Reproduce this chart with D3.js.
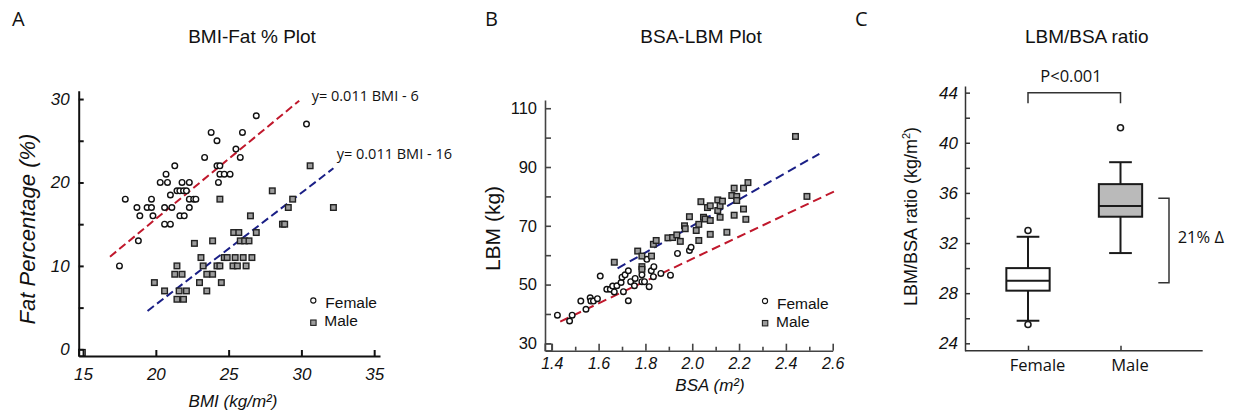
<!DOCTYPE html>
<meta charset="utf-8">
<title>BMI / BSA / LBM plots</title>
<style>
body { margin: 0; background: #fff; }
svg text { fill: #111; }
.fit { fill: none; stroke-width: 2; }
</style>
<svg width="1238" height="414"></svg>
<script src="https://d3js.org/d3.v7.min.js"></script>
<script>

// ---- panel A : BMI vs fat %
var femaleBMI = [17.5,17.9,18.7,18.9,18.8,19.4,19.7,19.7,19.8,20.3,20.6,20.7,20.8,20.6,21.0,21.0,21.1,21.3,21.45,21.65,21.8,21.9,21.65,21.95,22.1,22.3,22.3,22.3,22.6,22.75,23.35,23.8,24.2,24.2,24.3,24.4,24.4,24.7,25.1,25.5,25.8,25.95,26.9,30.35];
var femaleFat = [10,18,17,16,13,17,18,17,16,20,15,21,20,17,15,18.5,17,22,19,19,20,19,16,16,19,20,18,17,18,18,23,26,25,22,20,22,21,21,21,24,23,26,28,27];
var maleBMI = [19.9,20.6,21.3,21.45,21.45,21.6,21.8,21.9,22.1,22.65,23.0,23.1,23.25,23.5,23.5,23.9,23.9,24.2,24.4,24.4,24.5,24.7,24.9,25.35,25.7,25.45,25.3,25.6,25.8,26.1,26.4,26.0,26.2,26.5,26.6,26.9,28.0,28.7,28.85,29.1,29.4,30.6,32.2];
var maleFat = [8,7,9,10,6,7,9,6,7,12.7,8,11,10,7,9,9,13,10,10,18,8,11,11,14,14,11,10,10,13,13,13,11,10,16,11,14,19,15,15,17,18,22,17];
var fitFemaleA = [[16.85, 11.1], [29.85, 29.8]];
var fitMaleA = [[19.43, 4.6], [32.2, 21.7]];
var bmiTicks = [15, 20, 25, 30, 35];
var fatTicks = [0, 10, 20, 30];
var fatMinor = [5, 15, 25];

// ---- panel B : BSA vs LBM
var femaleBSA = [1.424,1.476,1.487,1.524,1.546,1.564,1.567,1.578,1.595,1.607,1.635,1.65,1.66,1.667,1.678,1.696,1.706,1.70,1.713,1.727,1.727,1.737,1.756,1.753,1.785,1.785,1.796,1.806,1.816,1.825,1.836,1.834,1.866,1.907,1.937,1.988,1.995];
var femaleLBM = [39.6,37.6,39.6,44.4,41.6,45.5,44.4,44.4,45.2,52.9,48.4,48.4,49.5,47.5,49.6,50.7,47.6,52.5,53.3,54.7,44.5,51.0,52.1,49.6,51.0,53.3,51.0,58.6,49.3,54.7,56.1,52.7,53.8,53.2,60.6,61.6,62.7];
var maleBSA = [1.667,1.767,1.785,1.785,1.785,1.826,1.834,1.846,1.896,1.916,1.934,1.949,1.967,1.97,1.988,2.017,2.028,2.028,2.037,2.048,2.055,2.065,2.077,2.077,2.077,2.109,2.109,2.119,2.119,2.129,2.148,2.169,2.179,2.179,2.19,2.19,2.219,2.219,2.229,2.238,2.441,2.49];
var maleLBM = [57.6,61.4,59.7,56.1,55.2,59.7,63.7,65.0,65.9,66.0,66.9,64.7,70.0,69.0,73.1,68.4,65.0,70.5,78.2,72.9,72.3,76.2,76.8,71.8,67.1,78.8,75.2,76.8,72.9,78.4,67.8,80.3,82.8,73.6,80.0,78.6,82.8,75.7,72.2,84.7,100.4,80.0];
var fitFemaleB = [[1.436, 37.4], [2.62, 82.2]];
var fitMaleB = [[1.681, 55.5], [2.543, 94.5]];
var bsaTicks = [1.4, 1.6, 1.8, 2.0, 2.2, 2.4, 2.6];
var bsaMinor = [1.5, 1.7, 1.9, 2.1, 2.3, 2.5];
var lbmTicks = [30, 50, 70, 90, 110];
var lbmMinor = [40, 60, 80, 100];

// ---- panel C : LBM/BSA ratio boxes
var groups = ["Female", "Male"];
var q1 = [28.2, 34.1];
var median = [29.0, 34.95];
var q3 = [30.0, 36.7];
var whiskerLow = [25.8, 31.2];
var whiskerHigh = [32.5, 38.45];
var outliers = [[33.0, 25.5], [41.2]];
var boxFill = ["#ffffff", "#bababa"];
var ratioTicks = [24, 28, 32, 36, 40, 44];
var ratioMinor = [26, 30, 34, 38, 42];
var pBracket = [44.0, 43.15];
var deltaBracket = [35.57, 28.84];

var svg = d3.select("svg");
var helv = "'Liberation Sans', Arial, sans-serif";
var myriad = "'Open Sans', sans-serif";

function text(x, y, s, size, family, anchor, italic) {
  return svg.append("text")
      .attr("x", x).attr("y", y)
      .attr("font-size", size)
      .attr("font-family", family)
      .attr("text-anchor", anchor || "start")
      .attr("font-style", italic ? "italic" : "normal")
      .text(s);
}

function styleAxis(g, size, italic, width, color) {
  g.attr("font-family", helv).attr("font-size", size)
    .attr("font-style", italic ? "italic" : "normal");
  g.selectAll("path, line").attr("stroke", color).attr("stroke-width", width);
  g.selectAll("text").attr("fill", "#111");
}

function circles(x, y, xs, ys) {
  svg.append("g").selectAll("circle")
    .data(xs.map(function(d, i) { return [d, ys[i]]; }))
    .enter().append("circle")
      .attr("cx", function(d) { return x(d[0]); })
      .attr("cy", function(d) { return y(d[1]); })
      .attr("r", 2.8)
      .attr("fill", "#fff")
      .attr("stroke", "#111")
      .attr("stroke-width", 1.4);
}

function squares(x, y, xs, ys) {
  svg.append("g").selectAll("rect")
    .data(xs.map(function(d, i) { return [d, ys[i]]; }))
    .enter().append("rect")
      .attr("x", function(d) { return x(d[0]) - 2.8; })
      .attr("y", function(d) { return y(d[1]) - 2.8; })
      .attr("width", 5.6).attr("height", 5.6)
      .attr("fill", "#9c9c9c")
      .attr("stroke", "#222")
      .attr("stroke-width", 1.4);
}

function fit(x, y, pts, color, dash) {
  svg.append("path")
    .attr("class", "fit")
    .attr("stroke", color)
    .attr("stroke-dasharray", dash)
    .attr("d", d3.line().x(function(d) { return x(d[0]); }).y(function(d) { return y(d[1]); })(pts));
}

// legend: Liberation Sans keeps the two rows from colliding at this spacing
function legend(x, y) {
  svg.append("circle").attr("cx", x).attr("cy", y).attr("r", 2.6)
    .attr("fill", "#fff").attr("stroke", "#111").attr("stroke-width", 1.1);
  svg.append("rect").attr("x", x - 2.6).attr("y", y + 19.5).attr("width", 5.4).attr("height", 5.4)
    .attr("fill", "#9c9c9c").attr("stroke", "#222").attr("stroke-width", 1.1);
  text(x + 12, y + 7.5, "Female", 15.5, helv);
  text(x + 11, y + 25.5, "Male", 15.5, helv);
}

// ================= A
var xA = d3.scaleLinear().domain([14.7, 35.4]).range([78.7, 380]);
var yA = d3.scaleLinear().domain([-0.8, 31]).range([356, 90.7]);

var gAx = svg.append("g").attr("transform", "translate(0,356)")
  .call(d3.axisBottom(xA).tickValues(bmiTicks).tickSize(-6).tickSizeOuter(0).tickPadding(12));
styleAxis(gAx, 17, true, 2, "#111");
var gAy = svg.append("g").attr("transform", "translate(78.7,0)")
  .call(d3.axisLeft(yA).tickValues(fatTicks).tickSize(-5).tickSizeOuter(0).tickPadding(9));
styleAxis(gAy, 17, true, 2, "#111");
var gAy2 = svg.append("g").attr("transform", "translate(78.7,0)")
  .call(d3.axisLeft(yA).tickValues(fatMinor).tickSize(-5).tickFormat(""));
gAy2.select(".domain").remove();
styleAxis(gAy2, 17, true, 2, "#111");
svg.append("rect").attr("x", xA(14.7)).attr("y", 349.5).attr("width", 6.5).attr("height", 6.5)
  .attr("fill", "none").attr("stroke", "#111").attr("stroke-width", 1.2);

fit(xA, yA, fitFemaleA, "#c0182c", "8,4");
fit(xA, yA, fitMaleA, "#1a1f86", "8,4");
circles(xA, yA, femaleBMI, femaleFat);
squares(xA, yA, maleBMI, maleFat);

text(311.7, 101, "y= 0.011 BMI - 6", 14.5, myriad);
text(336.7, 158.5, "y= 0.011 BMI - 16", 14.5, myriad);
legend(313.3, 300.5);

text(12, 26, "A", 20, myriad);
text(252, 43, "BMI-Fat % Plot", 19, helv, "middle");
text(233, 407, "BMI (kg/m²)", 17, helv, "middle", true);
text(0, 0, "Fat Percentage (%)", 22, helv, "middle", true)
  .attr("transform", "translate(35,229) rotate(-90)");

// ================= B
var xB = d3.scaleLinear().domain([1.371, 2.6]).range([545, 832.7]);
var yB = d3.scaleLinear().domain([27.5, 112.8]).range([350.7, 100]);

var gBx = svg.append("g").attr("transform", "translate(0,350.7)")
  .call(d3.axisBottom(xB).tickValues(bsaTicks).tickSize(-7).tickSizeOuter(0).tickPadding(7)
    .tickFormat(d3.format(".1f")));
styleAxis(gBx, 16, true, 1.6, "#444");
var gBx2 = svg.append("g").attr("transform", "translate(0,350.7)")
  .call(d3.axisBottom(xB).tickValues(bsaMinor).tickSize(-4).tickFormat(""));
gBx2.select(".domain").remove();
styleAxis(gBx2, 15, true, 1.6, "#444");
var gBy = svg.append("g").attr("transform", "translate(545,0)")
  .call(d3.axisLeft(yB).tickValues(lbmTicks).tickSize(-6).tickSizeOuter(0).tickPadding(8));
styleAxis(gBy, 16.5, false, 1.6, "#444");
var gBy2 = svg.append("g").attr("transform", "translate(545,0)")
  .call(d3.axisLeft(yB).tickValues(lbmMinor).tickSize(-6).tickFormat(""));
gBy2.select(".domain").remove();
styleAxis(gBy2, 16, false, 1.6, "#444");
svg.append("rect").attr("x", 545).attr("y", 344).attr("width", 6.7).attr("height", 6.7)
  .attr("fill", "none").attr("stroke", "#444").attr("stroke-width", 1.1);

fit(xB, yB, fitFemaleB, "#c0182c", "9,5");
fit(xB, yB, fitMaleB, "#1a1f86", "9,5");
circles(xB, yB, femaleBSA, femaleLBM);
squares(xB, yB, maleBSA, maleLBM);
legend(765, 301);

text(485, 26, "B", 20, myriad);
text(701, 43, "BSA-LBM Plot", 19, helv, "middle");
text(710, 391, "BSA (m²)", 17, helv, "middle", true);
text(0, 0, "LBM (kg)", 21, helv, "middle")
  .attr("transform", "translate(500,228.5) rotate(-90)");

// ================= C
var xC = d3.scalePoint().domain(groups).range([1028, 1120.5]);
var yC = d3.scaleLinear().domain([23.41, 44.53]).range([350.7, 86]);

var gCx = svg.append("g").attr("transform", "translate(0,350.7)")
  .call(d3.axisBottom(xC).tickSize(-5).tickSizeOuter(0).tickPadding(9));
gCx.select(".domain").remove();
styleAxis(gCx, 16.5, false, 1.5, "#333");
gCx.selectAll("text").attr("font-family", myriad).attr("dx", 9);
svg.append("line").attr("x1", 965).attr("x2", 1202.7).attr("y1", 350.7).attr("y2", 350.7)
  .attr("stroke", "#333").attr("stroke-width", 1.5);
var gCy = svg.append("g").attr("transform", "translate(965,0)")
  .call(d3.axisLeft(yC).tickValues(ratioTicks).tickSize(-5).tickSizeOuter(0).tickPadding(7));
styleAxis(gCy, 17, true, 1.5, "#333");
var gCy2 = svg.append("g").attr("transform", "translate(965,0)")
  .call(d3.axisLeft(yC).tickValues(ratioMinor).tickSize(-5).tickFormat(""));
gCy2.select(".domain").remove();
styleAxis(gCy2, 17, true, 1.5, "#333");

var boxW = 43.3, capW = 22.7;
groups.forEach(function(g, i) {
  var cx = xC(g);
  var b = svg.append("g").attr("stroke", "#1a1a1a").attr("stroke-width", 2).attr("fill", "none");
  b.append("line").attr("x1", cx).attr("x2", cx).attr("y1", yC(whiskerLow[i])).attr("y2", yC(q1[i]));
  b.append("line").attr("x1", cx).attr("x2", cx).attr("y1", yC(q3[i])).attr("y2", yC(whiskerHigh[i]));
  [whiskerLow[i], whiskerHigh[i]].forEach(function(v) {
    b.append("line").attr("x1", cx - capW / 2).attr("x2", cx + capW / 2).attr("y1", yC(v)).attr("y2", yC(v));
  });
  b.append("rect").attr("x", cx - boxW / 2).attr("width", boxW)
    .attr("y", yC(q3[i])).attr("height", yC(q1[i]) - yC(q3[i]))
    .attr("fill", boxFill[i]);
  b.append("line").attr("x1", cx - boxW / 2).attr("x2", cx + boxW / 2)
    .attr("y1", yC(median[i])).attr("y2", yC(median[i]));
  outliers[i].forEach(function(v) {
    b.append("circle").attr("cx", cx).attr("cy", yC(v)).attr("r", 3).attr("fill", "#fff").attr("stroke-width", 1.6);
  });
});

// significance brackets
svg.append("path")
  .attr("d", d3.line()([[xC("Female"), yC(pBracket[1])], [xC("Female"), yC(pBracket[0])],
                        [xC("Male"), yC(pBracket[0])], [xC("Male"), yC(pBracket[1])]]))
  .attr("fill", "none").attr("stroke", "#333").attr("stroke-width", 1.5);
svg.append("path")
  .attr("d", d3.line()([[1158.3, yC(deltaBracket[0])], [1169, yC(deltaBracket[0])],
                        [1169, yC(deltaBracket[1])], [1158.3, yC(deltaBracket[1])]]))
  .attr("fill", "none").attr("stroke", "#333").attr("stroke-width", 1.5);
text(1071, 81.5, "P<0.001", 16.5, myriad, "middle");
text(1177.7, 242.7, "21% Δ", 16.5, myriad);

text(855, 26, "C", 20, myriad);
text(1086.7, 43, "LBM/BSA ratio", 19, helv, "middle");
var yl = text(0, 0, "LBM/BSA ratio (kg/m", 18, helv, "middle")
  .attr("transform", "translate(917,216.5) rotate(-90)");
yl.append("tspan").attr("font-size", 11).attr("dy", -7).text("2");
yl.append("tspan").attr("dy", 7).text(")");

</script>
